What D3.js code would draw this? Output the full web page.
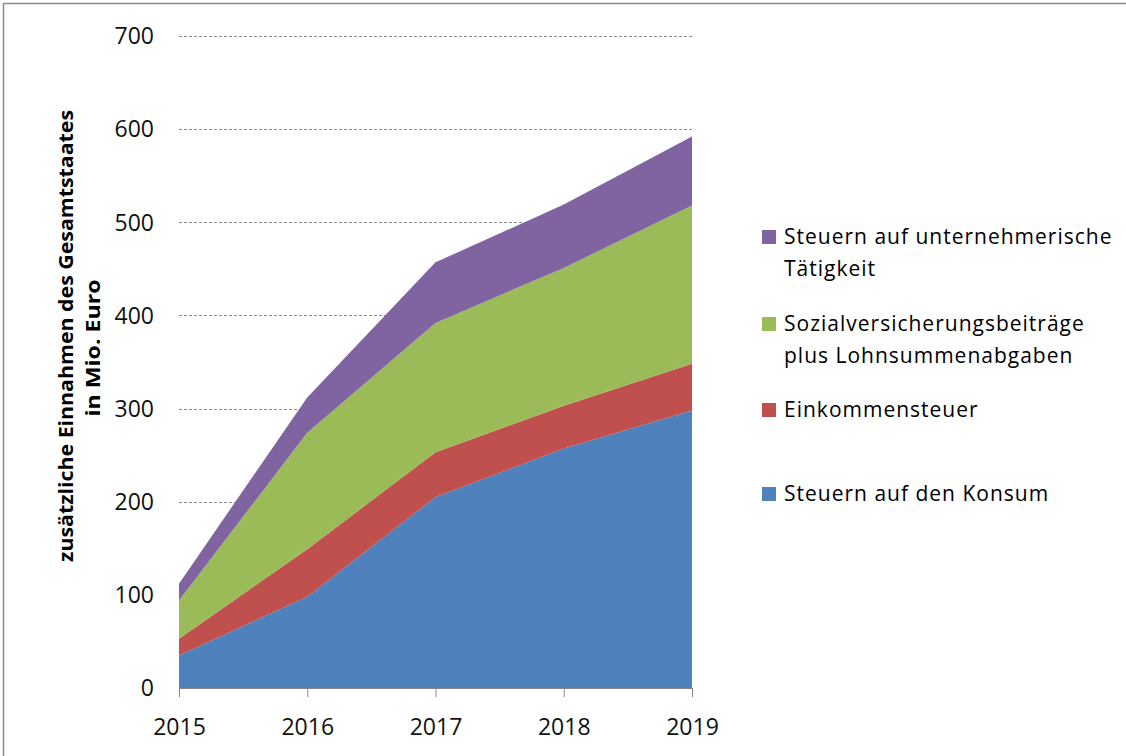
<!DOCTYPE html>
<html>
<head>
<meta charset="utf-8">
<script src="https://cdn.jsdelivr.net/npm/d3@7"></script>
<style>
  body { margin: 0; background: #fff; }
  svg { display: block; font-family: "Open Sans", sans-serif; }
</style>
</head>
<body>
<svg id="chart"></svg>
<script>
// years and stacked series (Mio. Euro), bottom to top
var years = [2015, 2016, 2017, 2018, 2019];
var konsum = [35, 98, 205, 257, 298];
var einkommen = [18, 51, 48, 46, 50];
var sozial = [41, 125, 139, 148, 170];
var unternehmen = [18, 38, 65, 68, 74];
var yTicks = [0, 100, 200, 300, 400, 500, 600, 700];

var seriesNames = [
    ['Steuern auf den Konsum'],
    ['Einkommensteuer'],
    ['Sozialversicherungsbeiträge', 'plus Lohnsummenabgaben'],
    ['Steuern auf unternehmerische', 'Tätigkeit']
];
var colors = ['#4f81bd', '#c0504d', '#9bbb59', '#8064a2'];

var width = 1126, height = 756;
var svg = d3.select('#chart')
    .attr('width', width)
    .attr('height', height);

// outer frame
svg.append('rect')
    .attr('x', 3.5).attr('y', 3.5)
    .attr('width', width + 10).attr('height', height + 10)
    .attr('fill', 'none')
    .attr('stroke', '#8c8c8c')
    .attr('stroke-width', 1.5);

var plot = { left: 179, right: 692, top: 36, bottom: 688 };

var xScale = d3.scalePoint()
    .domain(years)
    .range([plot.left, plot.right]);
var yScale = d3.scaleLinear()
    .domain([0, 700])
    .range([plot.bottom, plot.top]);

var table = years.map(function(y, i) {
    return { year: y, k: konsum[i], e: einkommen[i], s: sozial[i], u: unternehmen[i] };
});
var stacked = d3.stack().keys(['k', 'e', 's', 'u'])(table);

// gridlines
svg.append('g')
    .selectAll('line')
    .data(yTicks.slice(1))
    .join('line')
    .attr('x1', plot.left)
    .attr('x2', plot.right)
    .attr('y1', function(d) { return Math.round(yScale(d)) + 0.5; })
    .attr('y2', function(d) { return Math.round(yScale(d)) + 0.5; })
    .attr('stroke', '#8a8a8a')
    .attr('stroke-width', 1)
    .attr('stroke-dasharray', '3,2');

var area = d3.area()
    .x(function(d) { return xScale(d.data.year); })
    .y0(function(d) { return yScale(d[0]); })
    .y1(function(d) { return yScale(d[1]); });

svg.append('g')
    .selectAll('path')
    .data(stacked)
    .join('path')
    .attr('d', area)
    .attr('fill', function(d, i) { return colors[i]; });

// y tick labels
svg.append('g')
    .selectAll('text')
    .data(yTicks)
    .join('text')
    .attr('x', 154)
    .attr('y', function(d) { return yScale(d); })
    .attr('dy', '0.36em')
    .attr('text-anchor', 'end')
    .attr('font-size', 23)
    .attr('fill', '#111')
    .text(function(d) { return d; });

// x axis
var xAxis = d3.axisBottom(xScale)
    .tickSize(9)
    .tickPadding(22);
var gx = svg.append('g')
    .attr('transform', 'translate(0,' + plot.bottom + ')')
    .call(xAxis);
gx.select('.domain').attr('stroke', '#868686').attr('d', 'M' + plot.left + ',0.5H' + plot.right);
gx.selectAll('.tick line').attr('stroke', '#868686');
gx.selectAll('.tick text')
    .attr('font-family', '"Open Sans", sans-serif')
    .attr('font-size', 23)
    .attr('fill', '#111');

// y axis title
var title = svg.append('g')
    .attr('transform', 'translate(66,336) rotate(-90)');
title.append('text')
    .attr('text-anchor', 'middle')
    .attr('dy', '0.35em')
    .attr('font-weight', 'bold')
    .attr('font-size', 19)
    .attr('textLength', 452)
    .attr('lengthAdjust', 'spacingAndGlyphs')
    .text('zusätzliche  Einnahmen des Gesamtstaates');
title.append('text')
    .attr('y', 27)
    .attr('x', -12)
    .attr('text-anchor', 'middle')
    .attr('dy', '0.35em')
    .attr('font-weight', 'bold')
    .attr('font-size', 19)
    .attr('textLength', 137)
    .attr('lengthAdjust', 'spacingAndGlyphs')
    .text('in Mio. Euro');

// legend, top to bottom
var legendRows = [
    { idx: 3, y: 237 },
    { idx: 2, y: 324 },
    { idx: 1, y: 410 },
    { idx: 0, y: 494 }
];
var legend = svg.append('g');
legendRows.forEach(function(row) {
    legend.append('rect')
        .attr('x', 762)
        .attr('y', row.y - 7)
        .attr('width', 14)
        .attr('height', 14)
        .attr('fill', colors[row.idx]);
    seriesNames[row.idx].forEach(function(line, j) {
        legend.append('text')
            .attr('x', 784)
            .attr('y', row.y + j * 32)
            .attr('dy', '0.35em')
            .attr('font-size', 21)
            .attr('letter-spacing', 1)
            .attr('fill', '#000')
            .text(line);
    });
});
</script>
</body>
</html>
